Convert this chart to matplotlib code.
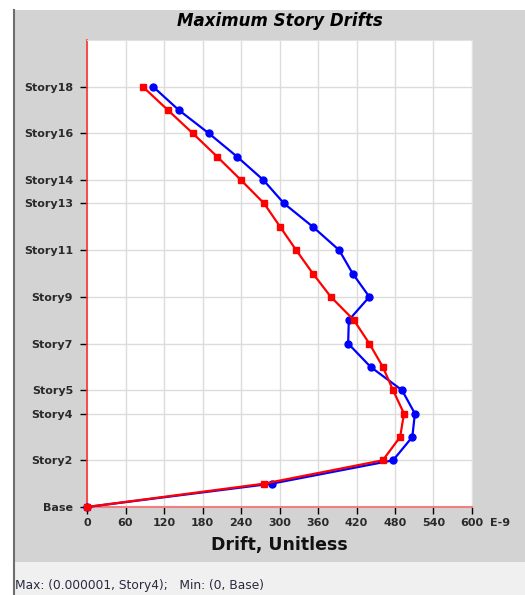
import matplotlib.pyplot as plt
from matplotlib.patches import Rectangle
from matplotlib.lines import Line2D

plt.rcParams['font.family'] = ['DejaVu Sans']

# story levels 0 (Base) .. 18
levels = list(range(19))
tick_levels = [0, 2, 4, 5, 7, 9, 11, 13, 14, 16, 18]
tick_names = ['Base', 'Story2', 'Story4', 'Story5', 'Story7', 'Story9',
              'Story11', 'Story13', 'Story14', 'Story16', 'Story18']

# drifts in E-9, Base -> Story18
drift_red = [0, 276, 461, 488, 494, 477, 461, 440, 416, 380,
             352, 326, 301, 276, 240, 203, 165, 126, 87]
drift_blue = [0, 288, 477, 507, 511, 491, 442, 407, 408, 440,
              414, 393, 352, 307, 275, 234, 190, 143, 103]

xticks = list(range(0, 601, 60))

W, H = 525, 595
fig = plt.figure(figsize=(W / 100, H / 100), dpi=100)
fig.patch.set_facecolor('white')

# window panels (pixel coords -> figure fractions)
def fr(x0, y0, x1, y1):
    return (x0 / W, 1 - y1 / H), (x1 - x0) / W, (y1 - y0) / H

xy, w, h = fr(14, 10, 525, 562)
fig.patches.append(Rectangle(xy, w, h, transform=fig.transFigure,
                             facecolor='#d3d3d3', edgecolor='none', zorder=-10))
xy, w, h = fr(14, 562, 525, 595)
fig.patches.append(Rectangle(xy, w, h, transform=fig.transFigure,
                             facecolor='#f0f0f0', edgecolor='none', zorder=-10))
fig.lines.append(Line2D([13.5 / W, 13.5 / W], [0, 1 - 10 / H],
                        transform=fig.transFigure, color='#6e6e6e', lw=1.5,
                        zorder=-5))

ax = fig.add_axes([87 / W, 88 / H, 385 / W, 467 / H])
ax.set_facecolor('white')

ax.plot(drift_blue, levels, color='#0000ff', lw=1.6, marker='o', ms=5,
        zorder=3, clip_on=False)
ax.plot(drift_red, levels, color='#ff0000', lw=1.6, marker='s', ms=5,
        zorder=4, clip_on=False)

ax.set_xlim(0, 600)
ax.set_ylim(0, 20)
ax.set_xticks(xticks)
ax.set_xticklabels([str(v) for v in xticks])
ax.set_yticks(tick_levels)
ax.set_yticklabels(tick_names)
ax.grid(True, color='#dcdcdc', lw=1)
ax.set_axisbelow(True)

for s in ['top', 'right']:
    ax.spines[s].set_color('#e2e2e2')
ax.spines['left'].set_color('#ff3030')
ax.spines['left'].set_linewidth(1.2)
ax.spines['bottom'].set_color('#f08080')
ax.spines['bottom'].set_linewidth(1.5)

ax.tick_params(axis='both', direction='out', length=5, width=1,
               color='black', labelsize=8, labelcolor='#2a2a2a')
ax.tick_params(axis='y', pad=5)
ax.tick_params(axis='x', pad=3)
for lab in ax.get_xticklabels() + ax.get_yticklabels():
    lab.set_fontweight('bold')

fig.text(490 / W, 1 - 523 / H, 'E-9', fontsize=8, fontweight='bold',
         color='#2a2a2a', va='center', ha='left')
fig.text(279.5 / W, 1 - 21 / H, 'Maximum Story Drifts', fontsize=12,
         fontweight='bold', fontstyle='italic', ha='center', va='center')
fig.text(279.5 / W, 1 - 545 / H, 'Drift, Unitless', fontsize=12.5,
         fontweight='bold', ha='center', va='center', color='#111111')
fig.text(15 / W, 1 - 586 / H, 'Max: (0.000001, Story4);   Min: (0, Base)',
         fontsize=8.8, ha='left', va='center', color='#2a2a40')

fig.savefig('out.png', dpi=100)
